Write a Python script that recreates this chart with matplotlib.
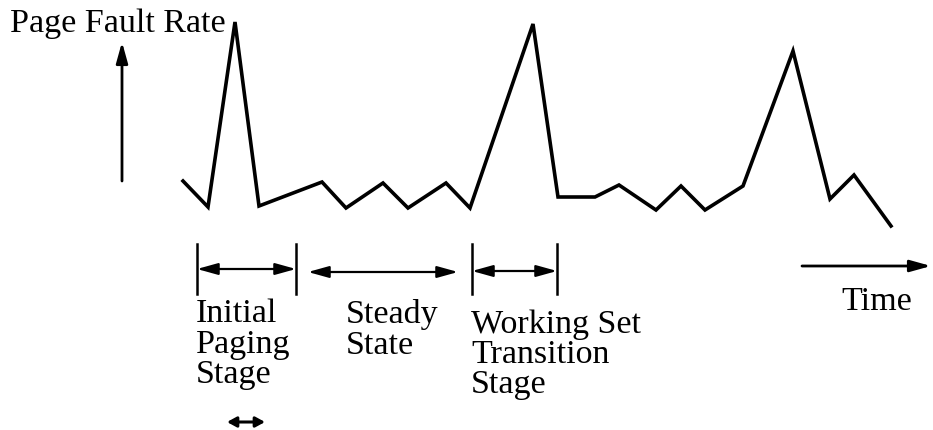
import matplotlib.pyplot as plt
from matplotlib.patches import FancyArrowPatch

# page fault rate over time (arbitrary units)
time = [183, 208, 235, 259, 322, 346, 383, 408, 446, 470, 533,
        558, 595, 619, 656, 681, 705, 743, 793, 830, 854, 891]
rate = [249, 223, 408, 224, 248, 222, 247, 222, 247, 222, 406,
        233, 233, 245, 220, 244, 220, 244, 379, 231, 255, 204]

# stage boundaries on the time axis
stage_edges = [197, 296, 472, 557]
steady_span = (308, 458)
stage_labels = ["Initial\nPaging\nStage", "Steady\nState", "Working Set\nTransition\nStage"]
stage_label_x = [196, 346, 471]
stage_label_y = [132, 132, 122]

W, H = 933, 431
fig = plt.figure(figsize=(W / 100, H / 100), dpi=100)
ax = fig.add_axes([0, 0, 1, 1])
ax.set_xlim(0, W)
ax.set_ylim(0, H)
ax.axis('off')

font = dict(family='Liberation Serif', fontsize=24.5, color='black')

ax.plot(time, rate, color='black', lw=2.6, solid_joinstyle='miter')

def arrow(p0, p1, style, lw=1.6, scale=14):
    a = FancyArrowPatch(p0, p1, arrowstyle=style, mutation_scale=scale,
                        color='black', lw=lw, shrinkA=0, shrinkB=0)
    ax.add_patch(a)

head = '-|>,head_length=0.9,head_width=0.25'
both = '<|-|>,head_length=0.9,head_width=0.25'

# y axis arrow + label
arrow((122, 249), (122, 388), head, lw=2)
ax.text(10, 423, "Page Fault Rate", va='top', ha='left', **font)

# stage brackets
for x in stage_edges:
    ax.plot([x, x], [H - 245, H - 295], color='black', lw=1.8)
arrow((stage_edges[0], H - 270), (stage_edges[1], H - 270), both)
arrow((steady_span[0], H - 273), (steady_span[1], H - 273), both)
arrow((stage_edges[2], H - 272), (stage_edges[3], H - 272), both)

for lab, x, y in zip(stage_labels, stage_label_x, stage_label_y):
    ax.text(x, y, lab, va='top', ha='left', linespacing=1.0, **font)

# small arrow below
arrow((227, H - 423), (265, H - 423), '<|-|>,head_length=0.55,head_width=0.3', lw=2.2, scale=10)

# time arrow
arrow((802, H - 267), (931, H - 267), head, lw=2)
ax.text(841, H - 286, "Time", va='top', ha='left', **font)

fig.savefig('out.png', dpi=100)
